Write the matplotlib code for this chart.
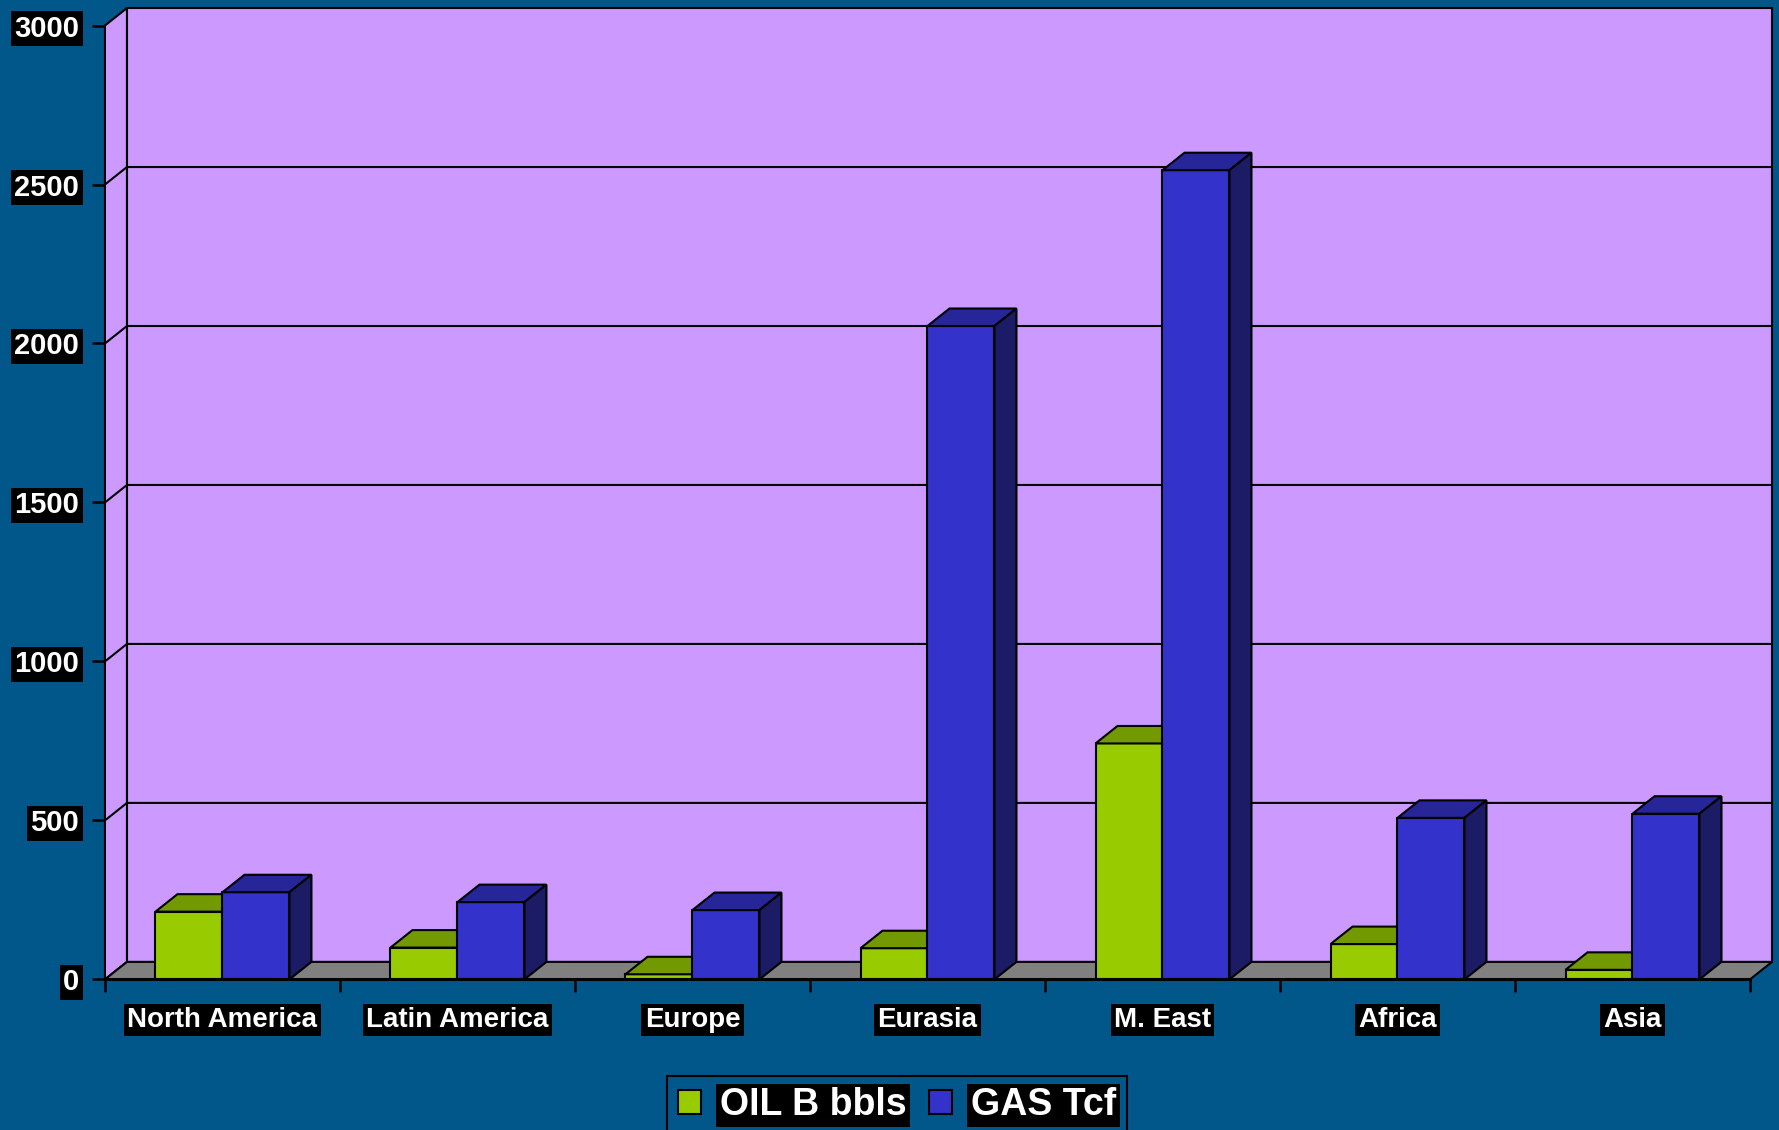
import matplotlib
matplotlib.use('Agg')
import matplotlib.pyplot as plt
from matplotlib.patches import Polygon, Patch
import numpy as np

# reserves by region
regions = ['North America', 'Latin America', 'Europe', 'Eurasia', 'M. East', 'Africa', 'Asia']
oil = [213, 100, 16, 98, 742, 111, 30]        # billion barrels
gas = [274, 243, 218, 2055, 2545, 508, 521]   # trillion cubic feet
yticks = [0, 500, 1000, 1500, 2000, 2500, 3000]

BG = '#02578A'
WALL = '#CC99FF'
FLOOR = '#808080'
OIL_C = ('#99CC00', '#739900', '#4D6600')   # front, top, side
GAS_C = ('#3333CC', '#262699', '#1B1B66')

plt.rcParams['font.family'] = ['Liberation Sans', 'DejaVu Sans']
plt.rcParams['font.weight'] = 'bold'

fig = plt.figure(figsize=(17.79, 11.30), dpi=100, facecolor=BG)
ax = fig.add_axes([0.0590, 0.1333, 0.9247, 0.8441])
ax.set_xlim(-0.5, len(regions) - 0.5)
ax.set_ylim(0, 3000)
ax.patch.set_visible(False)
for s in ax.spines.values():
    s.set_visible(False)

# oblique depth offset (data units)
DX = 22 / 235.0
DY = 55.0
x0, x1 = -0.5, len(regions) - 0.5
top = yticks[-1]
lw = 1.5

def poly(pts, fc, z):
    ax.add_patch(Polygon(pts, closed=True, facecolor=fc, edgecolor='black',
                         lw=lw, zorder=z, clip_on=False, joinstyle='miter'))

# walls and floor
poly([(x0 + DX, DY), (x1 + DX, DY), (x1 + DX, top + DY), (x0 + DX, top + DY)], WALL, 0.5)
poly([(x0, 0), (x0 + DX, DY), (x0 + DX, top + DY), (x0, top)], WALL, 0.6)
poly([(x0, 0), (x1, 0), (x1 + DX, DY), (x0 + DX, DY)], FLOOR, 0.7)

for v in yticks[1:-1]:
    ax.plot([x0, x0 + DX, x1 + DX], [v, v + DY, v + DY], color='black',
            lw=lw, zorder=0.8, clip_on=False)

def bar3d(xl, w, h, cols):
    fc, tc, sc = cols
    poly([(xl, 0), (xl + w, 0), (xl + w, h), (xl, h)], fc, 2)
    poly([(xl, h), (xl + w, h), (xl + w + DX, h + DY), (xl + DX, h + DY)], tc, 2)
    poly([(xl + w, 0), (xl + w + DX, DY), (xl + w + DX, h + DY), (xl + w, h)], sc, 2)

w = 0.285
for i in range(len(regions)):
    bar3d(i - w, w, oil[i], OIL_C)
    bar3d(i, w, gas[i], GAS_C)

# ticks and labels
ax.yaxis.set_ticks_position('left')
ax.set_yticks(yticks)
ax.set_yticklabels([str(v) for v in yticks])
ax.tick_params(axis='y', length=9.5, width=1.8, color='black', pad=9,
               labelsize=21, labelcolor='white')

ax.xaxis.set_ticks_position('bottom')
ax.set_xticks(np.arange(x0, x1 + 0.01, 1.0))
ax.set_xticklabels([])
ax.set_xticks(np.arange(len(regions)), minor=True)
ax.set_xticklabels(regions, minor=True)
ax.tick_params(axis='x', which='major', length=9.5, width=1.8, color='black')
ax.tick_params(axis='x', which='minor', length=0, pad=20,
               labelsize=20, labelcolor='white')
ax.plot([x0, x1], [0, 0], color='black', lw=2.2, zorder=3, clip_on=False)

for lbl in ax.get_yticklabels() + ax.get_xticklabels(minor=True):
    lbl.set_fontweight('bold')
    lbl.set_bbox(dict(facecolor='black', edgecolor='none', boxstyle='square,pad=0.12'))

handles = [Patch(facecolor=OIL_C[0], edgecolor='black', lw=1.5, label='OIL B bbls'),
           Patch(facecolor=GAS_C[0], edgecolor='black', lw=1.5, label='GAS Tcf')]
leg = ax.legend(handles=handles, loc='upper center', ncol=2,
                bbox_to_anchor=(897 / 1779, 1 - 1076 / 1130),
                bbox_transform=fig.transFigure, fontsize=27, frameon=True,
                facecolor=BG, edgecolor='black', fancybox=False, framealpha=1,
                handlelength=0.62, handleheight=0.62, handletextpad=0.5,
                columnspacing=0.6, borderpad=0.3, borderaxespad=0)
leg.get_frame().set_linewidth(1.5)
for t in leg.get_texts():
    t.set_color('white')
    t.set_fontweight('bold')
    t.set_bbox(dict(facecolor='black', edgecolor='none', boxstyle='square,pad=0.1'))

fig.savefig('out.png', dpi=100, facecolor=BG)
